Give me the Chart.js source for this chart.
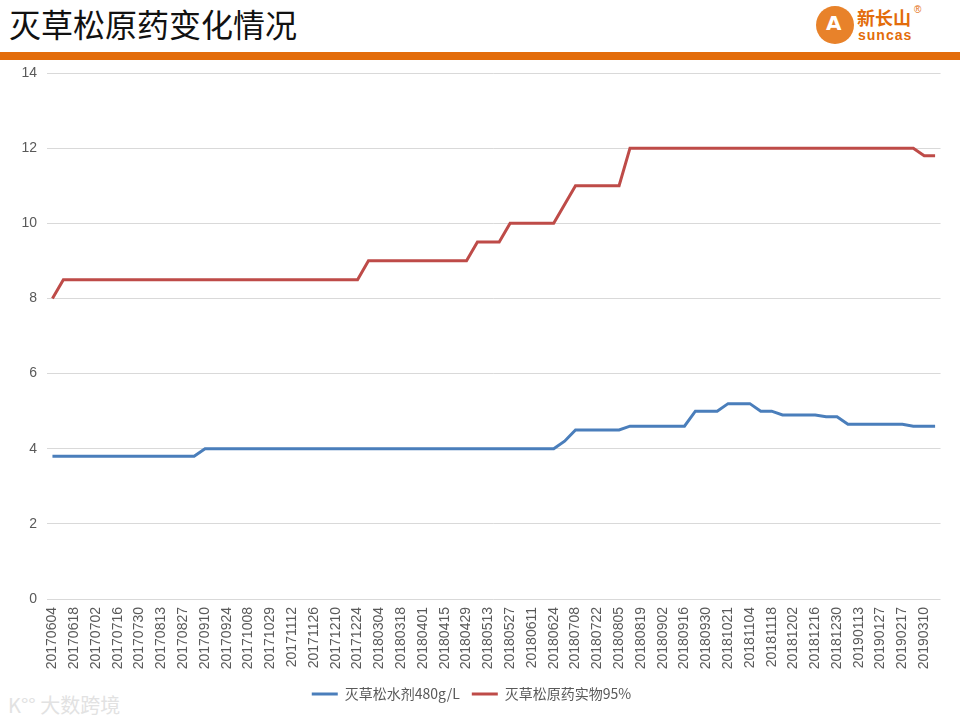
<!DOCTYPE html>
<html>
<head>
<meta charset="utf-8">
<script src="https://cdn.jsdelivr.net/npm/chart.js@4.4.1/dist/chart.umd.min.js"></script>
<style>
  body { margin: 0; background: #fff; width: 960px; height: 721px; overflow: hidden; position: relative; }
  #title { position: absolute; left: 9px; top: 0px; font-family: "Noto Sans CJK SC", sans-serif; font-size: 32px; color: #111; }
  #bar { position: absolute; left: 0; top: 52px; width: 960px; height: 8px; background: #E36C0A; }
  #logo { position: absolute; left: 816px; top: 6px; width: 38px; height: 38px; border-radius: 50%; background: #E8822A; }
  #logoA { position: absolute; left: 826px; top: 11px; font-family: "DejaVu Sans", sans-serif; font-weight: bold; font-size: 20px; color: #fff; }
  #logoCn { position: absolute; left: 857px; top: 6px; font-family: "Noto Sans CJK SC", sans-serif; font-weight: bold; font-size: 18px; color: #E36C0A; line-height: 22px; }
  #logoEn { position: absolute; left: 858px; top: 27px; font-family: "Liberation Sans", sans-serif; font-weight: bold; font-size: 14px; color: #E36C0A; letter-spacing: 1px; }
  #reg { position: absolute; left: 914px; top: 4px; font-family: "Liberation Sans", sans-serif; font-size: 10px; color: #E36C0A; }
  #wm { position: absolute; left: 8px; top: 690px; font-family: "Noto Sans CJK SC", sans-serif; font-size: 20px; color: #e2e2e2; }
  #chart { position: absolute; left: 0; top: 0; }
</style>
</head>
<body>
<div id="title">灭草松原药变化情况</div>
<div id="bar"></div>
<div id="logo"></div>
<div id="logoA">A</div>
<div id="logoCn">新长山</div>
<div id="logoEn">suncas</div>
<div id="reg">®</div>
<div id="wm">K°° 大数跨境</div>
<canvas id="chart" width="960" height="721"></canvas>
<script>
// Weekly dates (every other one is shown on the axis)
var dates = [
  '20170604','20170611','20170618','20170625','20170702','20170709','20170716','20170723',
  '20170730','20170806','20170813','20170820','20170827','20170903','20170910','20170917',
  '20170924','20171001','20171008','20171022','20171029','20171105','20171112','20171119',
  '20171126','20171203','20171210','20171217','20171224','20180225','20180304','20180311',
  '20180318','20180325','20180401','20180408','20180415','20180422','20180429','20180506',
  '20180513','20180520','20180527','20180603','20180611','20180617','20180624','20180701',
  '20180708','20180715','20180722','20180729','20180805','20180812','20180819','20180826',
  '20180902','20180909','20180916','20180923','20180930','20181014','20181021','20181028',
  '20181104','20181111','20181118','20181125','20181202','20181209','20181216','20181223',
  '20181230','20190106','20190113','20190120','20190127','20190210','20190217','20190303',
  '20190310','20190317'
];

// 灭草松水剂480g/L
var waterAgent = [
  3.8,3.8,3.8,3.8,3.8,3.8,3.8,3.8,3.8,3.8,3.8,3.8,3.8,3.8,
  4,4,4,4,4,4,4,4,4,4,4,4,4,4,4,4,4,4,4,4,4,4,4,4,4,4,4,4,4,4,4,4,4,
  4.2,4.5,4.5,4.5,4.5,4.5,
  4.6,4.6,4.6,4.6,4.6,4.6,
  5,5,5,5.2,5.2,5.2,5,5,
  4.9,4.9,4.9,4.9,4.85,4.85,
  4.65,4.65,4.65,4.65,4.65,4.65,4.6,4.6,4.6
];

// 灭草松原药实物95%
var technical = [
  8,
  8.5,8.5,8.5,8.5,8.5,8.5,8.5,8.5,8.5,8.5,8.5,8.5,8.5,8.5,8.5,8.5,8.5,8.5,8.5,8.5,8.5,8.5,8.5,8.5,8.5,8.5,8.5,8.5,
  9,9,9,9,9,9,9,9,9,9,
  9.5,9.5,9.5,
  10,10,10,10,10,
  10.5,
  11,11,11,11,11,
  12,12,12,12,12,12,12,12,12,12,12,12,12,12,12,12,12,12,12,12,12,12,12,12,12,12,12,
  11.8,11.8
];

var yTicks = [0, 2, 4, 6, 8, 10, 12, 14];

var textColor = '#595959';

new Chart('chart', {
  type: 'line',
  data: {
    labels: dates,
    datasets: [
      {
        label: '灭草松水剂480g/L',
        data: waterAgent,
        borderColor: '#4A7EBB',
        backgroundColor: '#4A7EBB',
        borderWidth: 3,
        pointRadius: 0,
        tension: 0
      },
      {
        label: '灭草松原药实物95%',
        data: technical,
        borderColor: '#BE4B48',
        backgroundColor: '#BE4B48',
        borderWidth: 3,
        pointRadius: 0,
        tension: 0
      }
    ]
  },
  options: {
    responsive: false,
    animation: false,
    layout: { padding: { top: 73, right: 17, left: 0, bottom: 10 } },
    plugins: {
      title: { display: false },
      tooltip: { enabled: false },
      legend: {
        position: 'bottom',
        labels: {
          usePointStyle: true,
          pointStyle: 'line',
          pointStyleWidth: 26,
          color: textColor,
          font: { family: '"Noto Sans CJK SC", "Liberation Sans", sans-serif', size: 14 },
          padding: 12
        }
      }
    },
    scales: {
      x: {
        offset: true,
        grid: { display: false, drawTicks: false },
        border: { display: false },
        afterFit: function(axis) { axis.height = 76; },
        ticks: {
          autoSkip: false,
          maxRotation: 90,
          minRotation: 90,
          padding: 8,
          color: textColor,
          font: { family: '"Liberation Sans", sans-serif', size: 14 },
          callback: function(v, i) { return i % 2 === 0 ? dates[i] : ''; }
        }
      },
      y: {
        min: 0,
        max: 14,
        afterFit: function(axis) { axis.width = 47; },
        afterBuildTicks: function(axis) { axis.ticks = yTicks.map(function(v) { return { value: v }; }); },
        grid: { color: '#D9D9D9', lineWidth: 1, drawTicks: false },
        border: { display: false },
        ticks: {
          padding: 10,
          color: textColor,
          font: { family: '"Liberation Sans", sans-serif', size: 14 }
        }
      }
    }
  }
});
</script>
</body>
</html>
